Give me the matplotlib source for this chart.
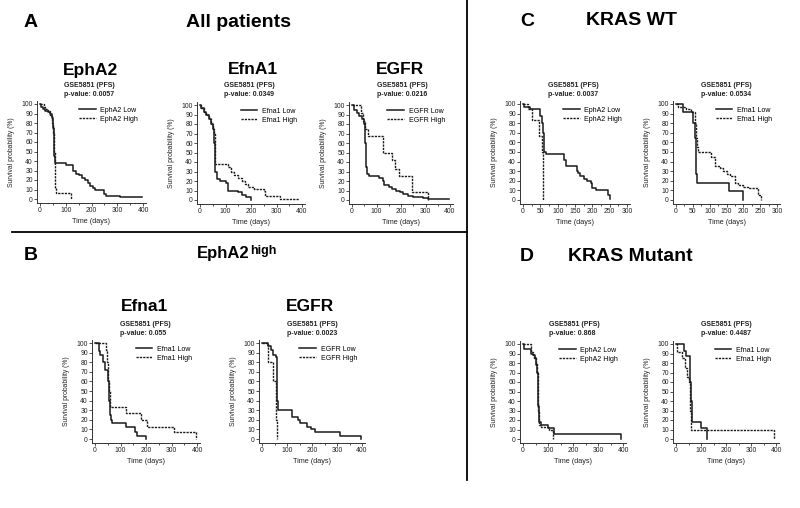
import matplotlib
matplotlib.use('Agg')
import matplotlib.pyplot as plt
from matplotlib.lines import Line2D
from matplotlib.ticker import MultipleLocator

plt.rcParams['font.family'] = ['Liberation Sans', 'DejaVu Sans']

# ---------------- data (time in days, survival in %) ----------------
# Panel A - All patients
a1_low_t = [0, 5, 10, 20, 30, 40, 45, 50, 53, 56, 58, 60, 100, 130, 140, 150, 165, 175, 185, 195, 205, 215, 250, 255, 260, 310, 395]
a1_low_s = [100, 97, 95, 93, 92, 90, 85, 75, 60, 45, 40, 38, 36, 30, 26, 25, 22, 20, 17, 14, 12, 10, 5, 3, 3, 2, 2]
a1_high_t = [0, 15, 20, 30, 40, 45, 50, 55, 57, 60, 62, 120]
a1_high_s = [100, 97, 95, 93, 88, 80, 70, 50, 30, 12, 6, 0]

a2_low_t = [0, 5, 15, 25, 35, 45, 50, 55, 57, 60, 65, 80, 100, 110, 150, 165, 180, 200]
a2_low_s = [100, 97, 93, 90, 85, 80, 75, 60, 40, 30, 22, 20, 18, 10, 8, 5, 3, 0]
a2_high_t = [0, 5, 15, 25, 35, 45, 50, 55, 58, 110, 120, 135, 150, 165, 175, 190, 210, 250, 255, 315, 390]
a2_high_s = [100, 97, 93, 90, 85, 80, 75, 70, 38, 35, 30, 26, 23, 20, 17, 14, 12, 10, 4, 1.5, 1.5]

a3_low_t = [0, 10, 20, 30, 40, 50, 55, 57, 60, 70, 110, 125, 130, 150, 165, 180, 195, 210, 230, 250, 290, 310, 395]
a3_low_s = [100, 95, 92, 88, 85, 80, 60, 35, 27, 25, 23, 20, 16, 14, 12, 10, 8, 6, 4, 3, 2, 1, 1]
a3_high_t = [0, 30, 35, 45, 55, 65, 125, 165, 175, 190, 245, 310]
a3_high_s = [100, 100, 92, 83, 75, 67, 50, 42, 33, 25, 8, 0]

# Panel B - EphA2 high
b1_low_t = [0, 10, 15, 20, 30, 40, 50, 55, 58, 62, 65, 120, 155, 165, 200]
b1_low_s = [100, 100, 92, 88, 80, 72, 60, 40, 25, 20, 17, 13, 7, 3, 0]
b1_high_t = [0, 45, 48, 52, 55, 58, 120, 180, 205, 310, 395]
b1_high_s = [100, 93, 80, 60, 50, 33, 27, 20, 13, 7, 0]

b2_low_t = [0, 25, 35, 45, 55, 58, 60, 62, 65, 120, 145, 150, 180, 195, 210, 310, 395]
b2_low_s = [100, 97, 93, 88, 85, 60, 40, 35, 30, 23, 20, 17, 13, 10, 7, 3, 0]
b2_high_t = [0, 22, 43, 57, 60]
b2_high_s = [100, 80, 60, 20, 0]

# Panel C - KRAS WT
c1_low_t = [0, 3, 20, 45, 50, 55, 58, 60, 62, 65, 118, 125, 155, 160, 165, 175, 185, 195, 200, 210, 245, 252]
c1_low_s = [100, 97, 95, 95, 88, 80, 70, 55, 50, 48, 42, 35, 30, 28, 25, 22, 20, 18, 12, 10, 5, 1]
c1_high_t = [0, 15, 25, 45, 55, 58]
c1_high_s = [100, 95, 83, 67, 50, 0]

c2_low_t = [0, 22, 45, 50, 55, 58, 60, 62, 158, 200]
c2_low_s = [100, 92, 92, 80, 65, 45, 27, 18, 9, 0]
c2_high_t = [0, 5, 30, 45, 55, 60, 62, 65, 105, 115, 130, 140, 150, 160, 175, 185, 200, 215, 245, 252]
c2_high_s = [100, 97, 95, 92, 80, 65, 55, 50, 45, 35, 33, 30, 27, 25, 18, 16, 14, 12, 5, 0]

# Panel D - KRAS Mutant
d1_low_t = [0, 3, 32, 40, 48, 53, 56, 58, 60, 62, 65, 70, 100, 122, 390]
d1_low_s = [100, 95, 90, 88, 85, 78, 70, 50, 35, 22, 18, 15, 12, 5, 0]
d1_high_t = [0, 32, 38, 45, 50, 55, 58, 60, 62, 65, 70, 105, 120]
d1_high_s = [100, 92, 88, 85, 80, 70, 50, 30, 20, 15, 13, 10, 0]

d2_low_t = [0, 30, 40, 55, 57, 60, 62, 65, 100, 122]
d2_low_s = [100, 93, 87, 80, 60, 40, 25, 18, 12, 0]
d2_high_t = [0, 3, 22, 35, 45, 52, 57, 60, 390]
d2_high_s = [100, 92, 85, 75, 65, 60, 30, 9, 0]

# ---------------- figure ----------------
W, H = 800, 508
fig = plt.figure(figsize=(8, 5.08), dpi=100)
TXT = '#222222'


def km_axes(x0, xt, xmax, y100, y0, low, high, names, xstep):
    sx = (xt - x0) / xmax
    sy = (y0 - y100) / 100.0
    pl, pr, pb, pt = 3, 3, 4, 3
    left, right = x0 - pl, xt + pr
    top, bottom = y100 - pt, y0 + pb
    ax = fig.add_axes([left / W, 1 - bottom / H, (right - left) / W, (bottom - top) / H])
    ax.set_xlim(-pl / sx, xmax + pr / sx)
    ax.set_ylim(-pb / sy, 100 + pt / sy)
    l1, = ax.step(low[0], low[1], where='post', color='#1a1a1a', lw=1.1, label=names[0])
    l2, = ax.step(high[0], high[1], where='post', color='#1a1a1a', lw=1.0,
                  linestyle=(0, (1.6, 0.8)), label=names[1])
    for s in ['top', 'right']:
        ax.spines[s].set_visible(False)
    for s in ['left', 'bottom']:
        ax.spines[s].set_linewidth(0.7)
        ax.spines[s].set_color('#333333')
    ax.xaxis.set_major_locator(MultipleLocator(xstep))
    ax.xaxis.set_minor_locator(MultipleLocator(xstep / 2))
    ax.yaxis.set_major_locator(MultipleLocator(10))
    ax.tick_params(which='both', direction='out', length=2, width=0.6, colors='#333333',
                   labelsize=4.9, pad=1, labelcolor=TXT)
    ax.tick_params(which='minor', length=1.5)
    ax.set_xlabel('Time (days)', fontsize=5.2, color=TXT, labelpad=3)
    ax.set_ylabel('Survival probability (%)', fontsize=4.9, color=TXT, labelpad=5)
    ax.legend(handles=[l1, l2], loc='upper right', bbox_to_anchor=(0.98, 1.0), frameon=False,
              fontsize=5, handlelength=2.4, handletextpad=0.7, labelspacing=0.3,
              borderaxespad=0.4)
    return ax


def header(xl, yb, pval):
    fig.text(xl / W, 1 - yb / H, 'GSE5851 (PFS)', fontsize=5, fontweight='bold',
             ha='left', va='baseline', color=TXT)
    fig.text(xl / W, 1 - (yb + 9) / H, 'p-value: ' + pval, fontsize=5, fontweight='bold',
             ha='left', va='baseline', color=TXT)


def title(xc, yb, s, size=12.5):
    fig.text(xc / W, 1 - yb / H, s, fontsize=size, fontweight='bold', ha='center', va='baseline')


# Panel A
km_axes(40, 143, 400, 104, 199, (a1_low_t, a1_low_s), (a1_high_t, a1_high_s), ['EphA2 Low', 'EphA2 High'], 100)
km_axes(200, 302, 400, 105, 200, (a2_low_t, a2_low_s), (a2_high_t, a2_high_s), ['Efna1 Low', 'Efna1 High'], 100)
km_axes(352, 450, 400, 105, 200, (a3_low_t, a3_low_s), (a3_high_t, a3_high_s), ['EGFR Low', 'EGFR High'], 100)
title(91, 75, 'EphA2'); header(64, 87, '0.0057')
title(253, 74, 'EfnA1'); header(224, 87, '0.0349')
title(400, 74, 'EGFR'); header(377, 87, '0.0216')

# Panel C
km_axes(523, 627, 300, 104, 200, (c1_low_t, c1_low_s), (c1_high_t, c1_high_s), ['EphA2 Low', 'EphA2 High'], 50)
km_axes(676, 777, 300, 104, 200, (c2_low_t, c2_low_s), (c2_high_t, c2_high_s), ['Efna1 Low', 'Efna1 High'], 50)
header(548, 87, '0.0037')
header(701, 87, '0.0534')

# Panel B
km_axes(95, 197, 400, 343, 439, (b1_low_t, b1_low_s), (b1_high_t, b1_high_s), ['Efna1 Low', 'Efna1 High'], 100)
km_axes(262, 362, 400, 343, 439, (b2_low_t, b2_low_s), (b2_high_t, b2_high_s), ['EGFR Low', 'EGFR High'], 100)
title(145, 311, 'Efna1'); header(120, 326, '0.055')
title(310, 311, 'EGFR'); header(287, 326, '0.0023')

# Panel D
km_axes(523, 623, 400, 344, 439, (d1_low_t, d1_low_s), (d1_high_t, d1_high_s), ['EphA2 Low', 'EphA2 High'], 100)
km_axes(676, 776, 400, 344, 439, (d2_low_t, d2_low_s), (d2_high_t, d2_high_s), ['Efna1 Low', 'Efna1 High'], 100)
header(549, 326, '0.868')
header(701, 326, '0.4487')

# Section labels
fig.text(31 / W, 1 - 27 / H, 'A', fontsize=14, fontweight='bold', ha='center', va='baseline')
fig.text(239 / W, 1 - 27 / H, 'All patients', fontsize=14, fontweight='bold', ha='center', va='baseline')
fig.text(527 / W, 1 - 26 / H, 'C', fontsize=14, fontweight='bold', ha='center', va='baseline')
fig.text(631 / W, 1 - 25 / H, 'KRAS WT', fontsize=14, fontweight='bold', ha='center', va='baseline')
fig.text(31 / W, 1 - 260 / H, 'B', fontsize=14, fontweight='bold', ha='center', va='baseline')
fig.text(197 / W, 1 - 258 / H, 'EphA2', fontsize=12, fontweight='bold', ha='left', va='baseline')
fig.text(250 / W, 1 - 254 / H, 'high', fontsize=9, fontweight='bold', ha='left', va='baseline')
fig.text(527 / W, 1 - 261 / H, 'D', fontsize=14, fontweight='bold', ha='center', va='baseline')
fig.text(630 / W, 1 - 261 / H, 'KRAS Mutant', fontsize=14, fontweight='bold', ha='center', va='baseline')

# Divider lines
fig.add_artist(Line2D([12 / W, 467 / W], [1 - 232 / H, 1 - 232 / H], transform=fig.transFigure,
                      color='black', lw=1.3))
fig.add_artist(Line2D([467 / W, 467 / W], [1.0, 1 - 480 / H], transform=fig.transFigure,
                      color='black', lw=1.3))

fig.savefig('out.png', dpi=100, facecolor='white')
